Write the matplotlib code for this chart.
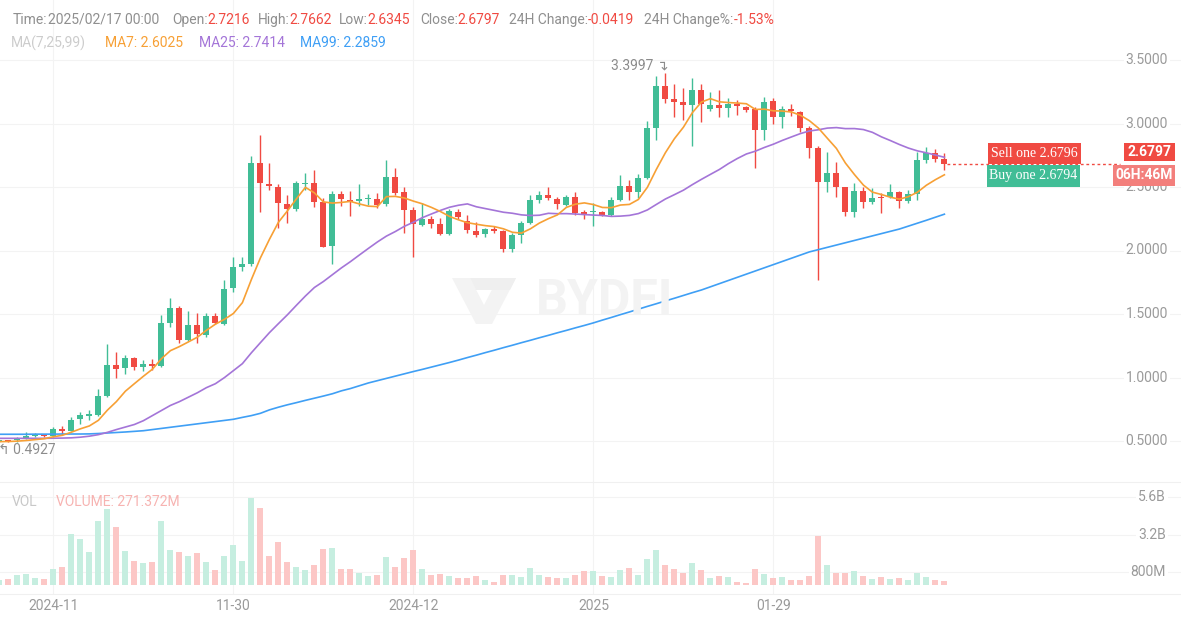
import numpy as np
import pandas as pd
import matplotlib
matplotlib.use("Agg")
import matplotlib.pyplot as plt
from matplotlib.patches import Rectangle, Polygon
from matplotlib.lines import Line2D
from matplotlib.transforms import blended_transform_factory

plt.rcParams['font.family'] = ['Roboto', 'DejaVu Sans']

W, H = 1181, 621

# daily candles, last one is 2025/02/17
opens = [0.494, 0.498, 0.505, 0.521, 0.542, 0.545, 0.539, 0.597, 0.581, 0.671,
         0.700, 0.702, 0.854, 1.100, 1.075, 1.153, 1.080, 1.110, 1.090, 1.431,
         1.545, 1.295, 1.411, 1.332, 1.487, 1.421, 1.707, 1.868, 1.894, 2.686,
         2.524, 2.502, 2.366, 2.324, 2.525, 2.529, 2.382, 2.035, 2.443, 2.397,
         2.392, 2.402, 2.405, 2.366, 2.581, 2.458, 2.319, 2.201, 2.246, 2.209,
         2.130, 2.306, 2.232, 2.156, 2.130, 2.167, 2.156, 2.009, 2.122, 2.219,
         2.398, 2.440, 2.403, 2.361, 2.424, 2.298, 2.302, 2.306, 2.280, 2.398,
         2.510, 2.458, 2.571, 2.962, 3.298, 3.193, 3.167, 3.143, 3.264, 3.114,
         3.148, 3.125, 3.153, 3.132, 3.112, 2.949, 3.180, 3.054, 3.112, 3.088,
         2.962, 2.805, 2.542, 2.608, 2.498, 2.306, 2.468, 2.379, 2.419, 2.419,
         2.458, 2.392, 2.443, 2.713, 2.765, 2.7216]
highs = [0.503, 0.505, 0.530, 0.568, 0.560, 0.550, 0.608, 0.618, 0.692, 0.728,
         0.743, 0.906, 1.264, 1.200, 1.174, 1.164, 1.138, 1.148, 1.490, 1.624,
         1.563, 1.527, 1.510, 1.505, 1.510, 1.768, 1.947, 1.951, 2.744, 2.909,
         2.686, 2.520, 2.436, 2.550, 2.608, 2.634, 2.410, 2.470, 2.470, 2.468,
         2.524, 2.443, 2.450, 2.713, 2.647, 2.500, 2.345, 2.377, 2.272, 2.254,
         2.330, 2.330, 2.280, 2.227, 2.180, 2.193, 2.165, 2.140, 2.230, 2.437,
         2.466, 2.503, 2.420, 2.440, 2.458, 2.320, 2.377, 2.310, 2.424, 2.594,
         2.555, 2.600, 3.020, 3.376, 3.3997, 3.310, 3.277, 3.361, 3.310, 3.250,
         3.260, 3.198, 3.185, 3.140, 3.130, 3.206, 3.200, 3.140, 3.151, 3.100,
         2.980, 2.820, 2.778, 2.700, 2.500, 2.529, 2.500, 2.495, 2.450, 2.521,
         2.470, 2.476, 2.778, 2.817, 2.797, 2.7662]
lows = [0.4927, 0.493, 0.494, 0.515, 0.532, 0.535, 0.535, 0.550, 0.575, 0.634,
        0.665, 0.695, 0.850, 0.996, 1.028, 1.059, 1.054, 1.059, 1.085, 1.400,
        1.274, 1.290, 1.269, 1.320, 1.420, 1.410, 1.673, 1.841, 1.880, 2.306,
        2.480, 2.175, 2.214, 2.310, 2.480, 2.345, 2.025, 1.894, 2.350, 2.272,
        2.350, 2.358, 2.332, 2.350, 2.440, 2.135, 1.951, 2.190, 2.175, 2.122,
        2.120, 2.250, 2.135, 2.110, 2.104, 2.135, 1.990, 1.990, 2.057, 2.210,
        2.372, 2.400, 2.324, 2.350, 2.280, 2.246, 2.195, 2.270, 2.270, 2.390,
        2.398, 2.411, 2.560, 2.870, 3.159, 3.054, 3.028, 2.823, 3.012, 3.100,
        3.050, 3.054, 3.067, 3.090, 2.647, 2.870, 3.000, 2.962, 3.059, 2.935,
        2.726, 1.768, 2.463, 2.424, 2.272, 2.261, 2.332, 2.370, 2.298, 2.410,
        2.332, 2.377, 2.400, 2.690, 2.700, 2.6345]
closes = [0.498, 0.495, 0.516, 0.542, 0.545, 0.540, 0.597, 0.580, 0.665, 0.702,
          0.702, 0.854, 1.100, 1.070, 1.153, 1.080, 1.110, 1.090, 1.431, 1.545,
          1.295, 1.411, 1.340, 1.487, 1.430, 1.697, 1.868, 1.894, 2.686, 2.529,
          2.508, 2.372, 2.324, 2.534, 2.529, 2.382, 2.030, 2.443, 2.408, 2.380,
          2.395, 2.405, 2.358, 2.581, 2.455, 2.319, 2.209, 2.246, 2.209, 2.130,
          2.313, 2.266, 2.161, 2.122, 2.169, 2.156, 2.009, 2.122, 2.219, 2.398,
          2.440, 2.410, 2.364, 2.424, 2.298, 2.290, 2.306, 2.280, 2.398, 2.510,
          2.458, 2.571, 2.962, 3.298, 3.193, 3.169, 3.143, 3.264, 3.153, 3.148,
          3.125, 3.153, 3.140, 3.106, 2.949, 3.172, 3.054, 3.112, 3.100, 2.962,
          2.805, 2.542, 2.608, 2.498, 2.306, 2.468, 2.379, 2.416, 2.411, 2.458,
          2.392, 2.443, 2.713, 2.765, 2.7216, 2.6797]
# volume in millions
volumes = [288, 352, 608, 690, 416, 352, 992, 1120, 3230, 2930,
           2080, 4080, 4790, 3660, 2140, 1500, 1360, 1440, 4080, 2210,
           2080, 1840, 2020, 1440, 928, 1840, 2510, 1500, 5540, 4880,
           1840, 2720, 1440, 1120, 928, 1270, 2270, 2360, 992, 992,
           780, 544, 608, 1760, 1120, 1700, 2210, 992, 608, 690,
           544, 416, 416, 544, 288, 180, 608, 608, 480, 1056,
           608, 480, 416, 416, 608, 864, 864, 544, 480, 928,
           1056, 608, 1630, 2210, 1270, 992, 757, 1360, 928, 416,
           544, 480, 180, 117, 992, 690, 416, 480, 288, 288,
           544, 3080, 1270, 780, 780, 864, 544, 352, 480, 352,
           416, 288, 780, 480, 288, 271.372]
# moving averages before a full window is available on screen
ma7_head = [0.495, 0.496, 0.499, 0.504, 0.511, 0.518]
ma25_head = [0.521, 0.521, 0.521, 0.521, 0.521, 0.521, 0.522, 0.523, 0.525, 0.530,
             0.538, 0.550, 0.568, 0.590, 0.610, 0.630, 0.660, 0.700, 0.740, 0.780,
             0.810, 0.845, 0.880, 0.920]
ma99 = [0.553, 0.553, 0.553, 0.553, 0.554, 0.554, 0.554, 0.555, 0.555, 0.555,
        0.556, 0.559, 0.563, 0.567, 0.571, 0.576, 0.581, 0.590, 0.599, 0.608,
        0.617, 0.626, 0.635, 0.644, 0.653, 0.662, 0.671, 0.686, 0.700, 0.718,
        0.745, 0.766, 0.785, 0.802, 0.820, 0.837, 0.854, 0.872, 0.895, 0.913,
        0.935, 0.957, 0.975, 0.993, 1.011, 1.029, 1.047, 1.064, 1.082, 1.100,
        1.118, 1.137, 1.157, 1.176, 1.196, 1.215, 1.235, 1.254, 1.274, 1.293,
        1.313, 1.332, 1.352, 1.371, 1.391, 1.410, 1.430, 1.452, 1.473, 1.495,
        1.516, 1.538, 1.560, 1.581, 1.603, 1.624, 1.646, 1.668, 1.689, 1.714,
        1.739, 1.764, 1.789, 1.814, 1.839, 1.864, 1.889, 1.914, 1.939, 1.964,
        1.989, 2.007, 2.025, 2.043, 2.061, 2.079, 2.097, 2.115, 2.133, 2.151,
        2.169, 2.192, 2.215, 2.238, 2.262, 2.2859]

tick_idx = [6, 26, 46, 66, 86]
tick_labels = ["2024-11", "11-30", "2024-12", "2025", "01-29"]
price_ticks = [3.5, 3.0, 2.5, 2.0, 1.5, 1.0, 0.5]
vol_ticks = [5600, 3200, 800]
vol_tick_labels = ["5.6B", "3.2B", "800M"]

UP, DOWN = "#41bd96", "#f04a42"
UP_V, DOWN_V = "#c6eee0", "#fcc7c6"
C_MA7, C_MA25, C_MA99 = "#f7a035", "#a475d8", "#3f9ff5"
GRID = "#f3f3f3"
LABEL = "#9a9a9a"


def fx(x):
    return x / W


def fy(y):
    return 1 - y / H


o = np.array(opens)
h = np.array(highs)
l = np.array(lows)
c = np.array(closes)
v = np.array(volumes)
n = len(c)
idx = np.arange(n)
up = c >= o

ma7 = pd.Series(c).rolling(7).mean().to_numpy()
ma7[:6] = ma7_head
ma25 = pd.Series(c).rolling(25).mean().to_numpy()
ma25[:24] = ma25_head

fig = plt.figure(figsize=(W / 100, H / 100), dpi=100)

# price pane: 482 px tall, 127 px per 1.0
ax = fig.add_axes([0, fy(482), 1, 482 / H])
ax.set_xlim(0.6 / 9, (W + 0.6) / 9)
ax.set_ylim(3.5 - 422 / 127, 3.5 + 60 / 127)
ax.axis('off')

ax_v = fig.add_axes([0, fy(594), 1, 112 / H])
ax_v.set_xlim(ax.get_xlim())
ax_v.set_ylim(-578, 6534)
ax_v.axis('off')

for p in price_ticks:
    ax.axhline(p, color=GRID, lw=0.8, zorder=0)
for t in vol_ticks:
    ax_v.axhline(t, color=GRID, lw=0.8, zorder=0)
for t in tick_idx:
    ax.axvline(t, color=GRID, lw=0.8, zorder=0)
    ax_v.axvline(t, color=GRID, lw=0.8, zorder=0)
for yy in (482, 594):
    fig.add_artist(Line2D([0, 1], [fy(yy), fy(yy)], color="#f0f0f0", lw=0.8,
                          transform=fig.transFigure))

# watermark: logo mark + name
WM = "#f3f3f3"
fig.add_artist(Polygon([(fx(452), fy(278)), (fx(470), fy(278)), (fx(484), fy(305)),
                        (fx(498), fy(278)), (fx(516), fy(278)), (fx(492), fy(324)),
                        (fx(476), fy(324))], closed=True, fc=WM, ec='none',
                       transform=fig.transFigure, zorder=0.5))
fig.add_artist(Polygon([(fx(470), fy(278)), (fx(516), fy(278)), (fx(510), fy(290)),
                        (fx(476), fy(290))], closed=True, fc="#efefef", ec='none',
                       transform=fig.transFigure, zorder=0.5))
fig.text(fx(605), fy(302), "BYDFI", ha='center', va='center', fontsize=36,
         fontweight='bold', color=WM, zorder=0.5)

# candles
cols = np.where(up, UP, DOWN)
ax.vlines(idx, l, h, colors=cols, lw=1.0, zorder=2)
body_h = np.maximum(np.abs(c - o), 1.3 / 127)
ax.bar(idx, body_h, bottom=np.minimum(o, c), width=6 / 9, color=cols, zorder=3)

ax.plot(idx, ma99, color=C_MA99, lw=1.2, zorder=4)
ax.plot(idx, ma25, color=C_MA25, lw=1.2, zorder=4)
ax.plot(idx, ma7, color=C_MA7, lw=1.2, zorder=4)

ax_v.bar(idx, v, width=6 / 9, color=np.where(up, UP_V, DOWN_V), zorder=2)

# extremes
hi = int(np.argmax(h))
lo = int(np.argmin(l))
ax.text(hi + 0.3, h[hi] + 0.054, f"{h[hi]:.4f} \u21b4", ha='right', va='center',
        fontsize=10, color="#8c8c8c", zorder=6)
ax.text(lo - 0.1, l[lo] - 0.064, f"\u21b0 {l[lo]:.4f}", ha='left', va='center',
        fontsize=10, color="#8c8c8c", zorder=6)

# right axis labels
tr = blended_transform_factory(fig.transFigure, ax.transData)
for p in price_ticks:
    ax.text(fx(1168), p, f"{p:.4f}", transform=tr, ha='right', va='center',
            fontsize=10, color=LABEL, zorder=5,
            bbox=dict(fc='white', ec='none', pad=1.5))
trv = blended_transform_factory(fig.transFigure, ax_v.transData)
for t, s in zip(vol_ticks, vol_tick_labels):
    ax_v.text(fx(1166), t, s, transform=trv, ha='right', va='center',
              fontsize=10, color=LABEL, zorder=5,
              bbox=dict(fc='white', ec='none', pad=1.5))

# x labels
for t, s in zip(tick_idx, tick_labels):
    xp = -0.6 + 9 * t
    fig.text(fx(xp), fy(606), s, ha='center', va='center', fontsize=10, color=LABEL)

# last price line and boxes
last = c[-1]
ax.plot([n - 1 + 0.3, (1120 + 0.6) / 9], [last, last], color=DOWN, lw=1.0,
        ls=(0, (2, 2)), zorder=4)


def box(x0, y0, x1, y1, color, text, tcolor='white', family=None, weight='normal', alpha=1.0):
    fig.add_artist(Rectangle((fx(x0), fy(y1)), fx(x1) - fx(x0), fy(y0) - fy(y1),
                             transform=fig.transFigure, fc=color, ec='none',
                             alpha=alpha, zorder=10))
    kw = dict(ha='center', va='center', fontsize=10, color=tcolor, zorder=11,
              fontweight=weight)
    if family:
        kw['family'] = family
    fig.text(fx((x0 + x1) / 2), fy((y0 + y1) / 2), text, **kw)


box(988, 143, 1081, 164, DOWN, "Sell one 2.6796", family=['Liberation Serif'])
box(987, 165, 1080, 187, UP, "Buy one 2.6794", family=['Liberation Serif'])
box(1124, 143, 1175, 161, DOWN, f"{last:.4f}", weight='bold')
box(1113, 165, 1175, 186, "#f37f7c", "06H:46M", weight='bold')

# header
renderer = fig.canvas.get_renderer()


def run(x, y, parts, size=10):
    for s, col in parts:
        t = fig.text(fx(x), fy(y), s, ha='left', va='center', fontsize=size, color=col)
        bb = t.get_window_extent(renderer)
        x += bb.width


G = "#8f8f8f"
R = "#f04a42"
run(13, 20, [("Time:", G), ("2025/02/17 00:00", G)])
run(172, 20, [("Open:", G), ("2.7216", R)])
run(258, 20, [("High:", G), ("2.7662", R)])
run(339, 20, [("Low:", G), ("2.6345", R)])
run(420, 20, [("Close:", G), ("2.6797", R)])
run(509, 20, [("24H Change:", G), ("-0.0419", R)])
run(644, 20, [("24H Change%:", G), ("-1.53%", R)])

run(11, 43, [("MA(7,25,99)", "#cccccc")])
run(105, 43, [("MA7: 2.6025", C_MA7)])
run(199, 43, [("MA25: 2.7414", C_MA25)])
run(300, 43, [("MA99: 2.2859", C_MA99)])

run(12, 502, [("VOL", "#c8c8c8")])
run(56, 502, [(f"VOLUME: {v[-1]:.3f}M", "#f7b3b1")])

fig.savefig("out.png", dpi=100)
